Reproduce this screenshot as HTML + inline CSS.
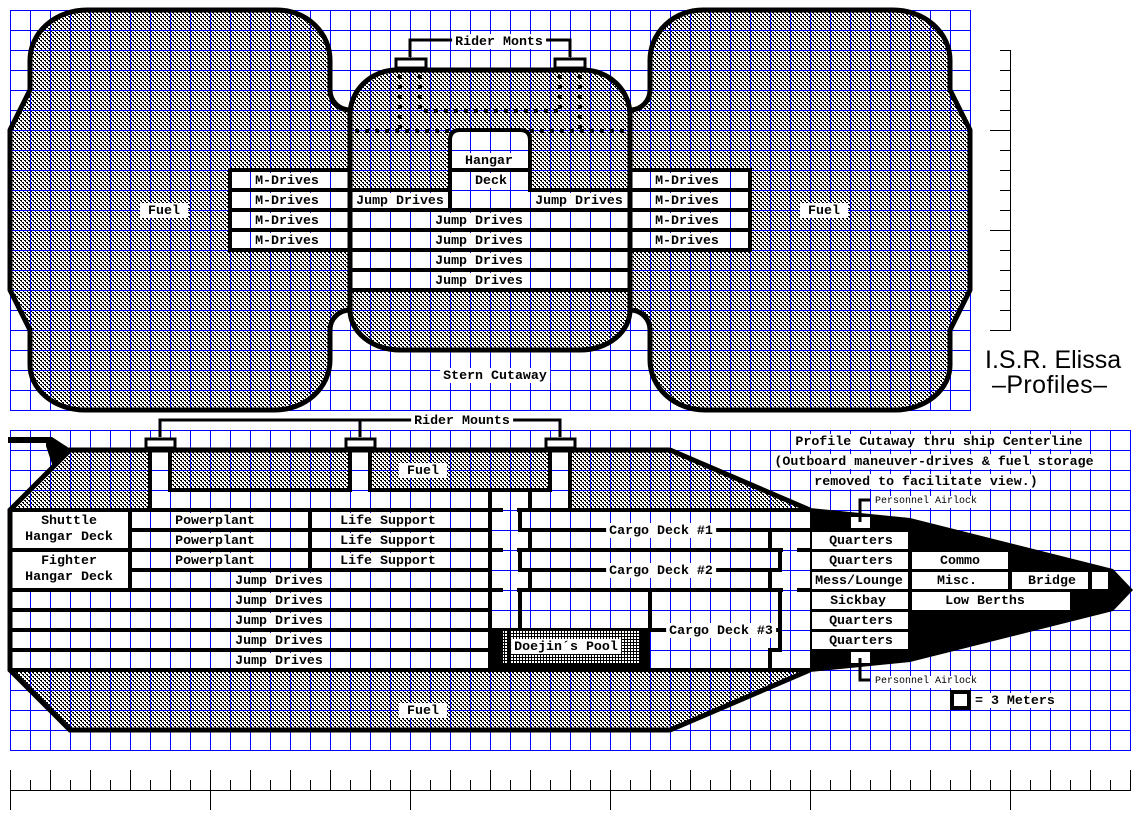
<!DOCTYPE html>
<html><head><meta charset="utf-8"><title>I.S.R. Elissa Profiles</title>
<style>
html,body{margin:0;padding:0;background:#fff;}
#c{position:relative;width:1141px;height:821px;overflow:hidden;background:#fff;}
#c svg{position:absolute;left:0;top:0;}
.l{position:absolute;transform:translate(-50%,-7px);background:#fff;font-family:"Liberation Mono",monospace;font-weight:bold;font-size:13.3px;line-height:15px;height:15px;padding:0 3px;white-space:pre;color:#000;}
.f{padding:0 8px;}
.s{position:absolute;transform:translate(0,-6px);font-family:"Liberation Mono",monospace;font-size:10px;line-height:12px;white-space:pre;color:#000;background:#fff;}
.la{transform:translate(0,-7px);padding:0;}
</style></head><body><div id="c">
<svg width="1141" height="821" viewBox="0 0 1141 821" xmlns="http://www.w3.org/2000/svg" shape-rendering="auto">
<defs>
 <pattern id="h" patternUnits="userSpaceOnUse" width="4" height="4">
  <path d="M0,0h2v1h-2z M1,1h1v1h-1z M2,2h2v1h-2z M3,3h1v1h-1z" fill="#000" shape-rendering="crispEdges"/>
 </pattern>
 <pattern id="g" patternUnits="userSpaceOnUse" x="10" y="10" width="20" height="20">
  <rect width="20" height="1" fill="#0000ff"/><rect width="1" height="20" fill="#0000ff"/>
 </pattern>
 <pattern id="pg" patternUnits="userSpaceOnUse" x="0" y="0" width="3" height="3">
  <rect width="3" height="3" fill="#fff"/><rect width="3" height="1" fill="#000"/><rect width="1" height="3" fill="#000"/>
 </pattern>
 <pattern id="t20" patternUnits="userSpaceOnUse" x="10" y="0" width="20" height="40"><rect width="1" height="40" fill="#000"/></pattern>
 <pattern id="t40" patternUnits="userSpaceOnUse" x="10" y="0" width="40" height="40"><rect width="1" height="40" fill="#000"/></pattern>
 <pattern id="t200" patternUnits="userSpaceOnUse" x="10" y="0" width="200" height="40"><rect width="1" height="40" fill="#000"/></pattern>
 <pattern id="v20" patternUnits="userSpaceOnUse" x="0" y="50" width="40" height="20"><rect width="40" height="1" fill="#000"/></pattern>
 <pattern id="v100" patternUnits="userSpaceOnUse" x="0" y="30" width="40" height="100"><rect width="40" height="1" fill="#000"/></pattern>
</defs>

<!-- TOP: hatch fills -->
<path fill="url(#h)" d="M87,10 H277 A53,50 0 0 1 330,60 V90 A20,20 0 0 0 350,110 V310 A20,20 0 0 0 330,330 V360 A55,50 0 0 1 275,410 H85 A55,45 0 0 1 30,365 V330 L10,290 V130 L30,90 V60 A57,50 0 0 1 87,10 Z"/>
<path fill="url(#h)" d="M893,10 H703 A53,50 0 0 0 650,60 V90 A20,20 0 0 1 630,110 V310 A20,20 0 0 1 650,330 V360 A55,50 0 0 0 705,410 H895 A55,45 0 0 0 950,365 V330 L970,290 V130 L950,90 V60 A57,50 0 0 0 893,10 Z"/>
<path fill="url(#h)" d="M350,115 A47,45 0 0 1 397,70 H583 A47,45 0 0 1 630,115 V310 A50,40 0 0 1 580,350 H400 A50,40 0 0 1 350,310 Z"/>
<rect x="230" y="170" width="120" height="80" fill="#fff"/>
<rect x="630" y="170" width="120" height="80" fill="#fff"/>
<rect x="350" y="190" width="280" height="100" fill="#fff"/>
<path fill="#fff" d="M450,192 V140 Q450,130 460,130 H520 Q530,130 530,140 V192 Z"/>

<!-- BOTTOM: hatch fills -->
<path fill="url(#h)" d="M70,450 H150 V510 H10 Z"/>
<rect x="170" y="450" width="180" height="40" fill="url(#h)"/>
<rect x="370" y="450" width="180" height="40" fill="url(#h)"/>
<path fill="url(#h)" d="M570,450 H670 L810,510 H570 Z"/>
<path fill="url(#h)" d="M10,670 H810 L670,730 H70 Z"/>

<!-- GRID -->
<rect x="10" y="10" width="961" height="401" fill="url(#g)"/>
<rect x="10" y="430" width="1121" height="321" fill="url(#g)"/>

<!-- white hangar boxes (no grid) -->
<rect x="10" y="510" width="120" height="80" fill="#fff"/>

<!-- TOP outlines -->
<g fill="none" stroke="#000" stroke-width="5" stroke-linejoin="round">
 <path d="M87,10 H277 A53,50 0 0 1 330,60 V90 A20,20 0 0 0 350,110 V310 A20,20 0 0 0 330,330 V360 A55,50 0 0 1 275,410 H85 A55,45 0 0 1 30,365 V330 L10,290 V130 L30,90 V60 A57,50 0 0 1 87,10 Z"/>
 <path d="M893,10 H703 A53,50 0 0 0 650,60 V90 A20,20 0 0 1 630,110 V310 A20,20 0 0 1 650,330 V360 A55,50 0 0 0 705,410 H895 A55,45 0 0 0 950,365 V330 L970,290 V130 L950,90 V60 A57,50 0 0 0 893,10 Z"/>
 <path d="M350,115 A47,45 0 0 1 397,70 H583 A47,45 0 0 1 630,115 V310 A50,40 0 0 1 580,350 H400 A50,40 0 0 1 350,310 Z"/>
</g>
<g fill="none" stroke="#000" stroke-width="4">
 <rect x="230" y="170" width="120" height="80"/>
 <rect x="630" y="170" width="120" height="80"/>
 <path d="M230,190 H350 M230,210 H350 M230,230 H350 M630,190 H750 M630,210 H750 M630,230 H750
  M348,190 H452 M528,190 H632
  M348,210 H632 M348,230 H632 M348,250 H632 M348,270 H632 M348,290 H632
  M450,212 V140 Q450,130 460,130 H520 Q530,130 530,140 V192
  M450,170 H530"/>
</g>
<!-- top dotted rider paths -->
<path d="M355,131 H450 M530,131 H628 M400,75 V131 M420,75 V111 H560 M560,75 V111 M580,75 V131" fill="none" stroke="#000" stroke-width="4" stroke-dasharray="4 6"/>
<!-- top rider mounts -->
<rect x="396" y="59" width="30" height="9" fill="#fff" stroke="#000" stroke-width="3"/>
<rect x="555" y="59" width="30" height="9" fill="#fff" stroke="#000" stroke-width="3"/>
<polyline points="410,57 410,40 570,40 570,57" fill="none" stroke="#000" stroke-width="3"/>

<!-- BOTTOM: front black section -->
<path fill="#000" d="M810,508 L910,518 L1113,569 L1133,590 L1113,611 L910,662 L810,672 Z"/>

<!-- BOTTOM outline -->
<path d="M810,510 L670,450 H70 L10,510 V670 L70,730 H670 L810,670" fill="none" stroke="#000" stroke-width="5" stroke-linejoin="miter"/>
<path fill="#000" d="M8,437 H52 L72,450 L53,467 L46,446 L46,443 H8 Z"/>

<!-- BOTTOM internal lines -->
<g fill="none" stroke="#000" stroke-width="4">
 <path d="M10,510 H503 M517,510 H810
  M128,530 H490
  M10,550 H503 M517,550 H783 M797,550 H810
  M128,570 H490
  M10,590 H503 M517,590 H783 M797,590 H810
  M10,610 H490 M10,630 H490 M10,650 H490
  M10,670 H810
  M130,508 V592
  M310,508 V572
  M490,488 V672
  M530,488 V510
  M150,450 V512
  M170,450 V490 H350 V450
  M370,450 V490 H550 V450
  M570,450 V512
  M520,508 V530 H530 V550 H520 V570 H530 V590 H520 V630
  M812,530 H770 V550 H780 V570 H770 V590 H780 V650 H770 V670
  M530,530 H770 M530,570 H770 M650,630 H780 M650,588 V630"/>
</g>

<!-- pool -->
<rect x="490" y="628" width="160" height="42" fill="#000"/>
<rect x="503" y="631" width="137" height="32" fill="url(#pg)"/>
<rect x="507" y="631" width="4" height="32" fill="#000"/>

<!-- bottom rider mounts -->
<rect x="146" y="439" width="29" height="9" fill="#fff" stroke="#000" stroke-width="3"/>
<rect x="346" y="439" width="29" height="9" fill="#fff" stroke="#000" stroke-width="3"/>
<rect x="546" y="439" width="29" height="9" fill="#fff" stroke="#000" stroke-width="3"/>
<polyline points="160,437 160,420 560,420 560,437" fill="none" stroke="#000" stroke-width="3"/>
<line x1="360" y1="420" x2="360" y2="437" stroke="#000" stroke-width="3"/>

<!-- front rooms -->
<g fill="#fff">
 <rect x="812" y="532" width="96" height="17"/>
 <rect x="812" y="552" width="96" height="17"/>
 <rect x="912" y="552" width="96" height="17"/>
 <rect x="812" y="572" width="96" height="17"/>
 <rect x="912" y="572" width="96" height="17"/>
 <rect x="1012" y="572" width="76" height="17"/>
 <rect x="1092" y="572" width="16" height="17"/>
 <rect x="812" y="592" width="96" height="17"/>
 <rect x="912" y="592" width="158" height="18"/>
 <rect x="812" y="612" width="96" height="17"/>
 <rect x="812" y="632" width="96" height="17"/>
 <rect x="851" y="517" width="19" height="11"/>
 <rect x="851" y="652" width="19" height="11"/>
</g>
<!-- airlock brackets -->
<polyline points="870,500 860,500 860,522" fill="none" stroke="#000" stroke-width="3"/>
<polyline points="860,658 860,680 870,680" fill="none" stroke="#000" stroke-width="3"/>

<!-- legend box -->
<rect x="952" y="692" width="17" height="16" fill="#fff" stroke="#000" stroke-width="4"/>

<!-- right-top ruler -->
<rect x="1010" y="50" width="1" height="281" fill="#000"/>
<rect x="1000" y="50" width="10" height="281" fill="url(#v20)"/>
<rect x="990" y="130" width="10" height="201" fill="url(#v100)"/>

<!-- bottom ruler -->
<rect x="10" y="790" width="1121" height="1" fill="#000"/>
<rect x="10" y="780" width="1121" height="10" fill="url(#t20)"/>
<rect x="10" y="770" width="1121" height="10" fill="url(#t40)"/>
<rect x="10" y="790" width="1121" height="20" fill="url(#t200)"/>

<!-- title -->
<text x="985" y="368" font-family="Liberation Sans, sans-serif" font-size="25" fill="#000">I.S.R. Elissa</text>
<text x="992" y="393" font-family="Liberation Sans, sans-serif" font-size="25" fill="#000" textLength="115">–Profiles–</text>
</svg>

<!-- TOP labels -->
<div class="l" style="left:499px;top:41px">Rider Monts</div>
<div class="l" style="left:489px;top:160px">Hangar</div>
<div class="l" style="left:491px;top:180px">Deck</div>
<div class="l" style="left:400px;top:200px">Jump Drives</div>
<div class="l" style="left:579px;top:200px">Jump Drives</div>
<div class="l" style="left:479px;top:220px">Jump Drives</div>
<div class="l" style="left:479px;top:240px">Jump Drives</div>
<div class="l" style="left:479px;top:260px">Jump Drives</div>
<div class="l" style="left:479px;top:280px">Jump Drives</div>
<div class="l" style="left:287px;top:180px">M-Drives</div>
<div class="l" style="left:287px;top:200px">M-Drives</div>
<div class="l" style="left:287px;top:220px">M-Drives</div>
<div class="l" style="left:287px;top:240px">M-Drives</div>
<div class="l" style="left:687px;top:180px">M-Drives</div>
<div class="l" style="left:687px;top:200px">M-Drives</div>
<div class="l" style="left:687px;top:220px">M-Drives</div>
<div class="l" style="left:687px;top:240px">M-Drives</div>
<div class="l f" style="left:164px;top:210px">Fuel</div>
<div class="l f" style="left:824px;top:210px">Fuel</div>
<div class="l" style="left:495px;top:375px">Stern Cutaway</div>

<!-- BOTTOM labels -->
<div class="l" style="left:462px;top:420px">Rider Mounts</div>
<div class="l f" style="left:423px;top:470px">Fuel</div>
<div class="l f" style="left:423px;top:710px">Fuel</div>
<div class="l" style="left:69px;top:520px">Shuttle</div>
<div class="l" style="left:69px;top:536px">Hangar Deck</div>
<div class="l" style="left:69px;top:560px">Fighter</div>
<div class="l" style="left:69px;top:576px">Hangar Deck</div>
<div class="l" style="left:215px;top:520px">Powerplant</div>
<div class="l" style="left:215px;top:540px">Powerplant</div>
<div class="l" style="left:215px;top:560px">Powerplant</div>
<div class="l" style="left:388px;top:520px">Life Support</div>
<div class="l" style="left:388px;top:540px">Life Support</div>
<div class="l" style="left:388px;top:560px">Life Support</div>
<div class="l" style="left:279px;top:580px">Jump Drives</div>
<div class="l" style="left:279px;top:600px">Jump Drives</div>
<div class="l" style="left:279px;top:620px">Jump Drives</div>
<div class="l" style="left:279px;top:640px">Jump Drives</div>
<div class="l" style="left:279px;top:660px">Jump Drives</div>
<div class="l" style="left:661px;top:530px">Cargo Deck #1</div>
<div class="l" style="left:661px;top:570px">Cargo Deck #2</div>
<div class="l" style="left:721px;top:630px">Cargo Deck #3</div>
<div class="l" style="left:566px;top:646px">Doejin´s Pool</div>
<div class="l" style="left:861px;top:540px">Quarters</div>
<div class="l" style="left:861px;top:560px">Quarters</div>
<div class="l" style="left:960px;top:560px">Commo</div>
<div class="l" style="left:859px;top:580px">Mess/Lounge</div>
<div class="l" style="left:957px;top:580px">Misc.</div>
<div class="l" style="left:1052px;top:580px">Bridge</div>
<div class="l" style="left:858px;top:600px">Sickbay</div>
<div class="l" style="left:985px;top:600px">Low Berths</div>
<div class="l" style="left:861px;top:620px">Quarters</div>
<div class="l" style="left:861px;top:640px">Quarters</div>
<div class="l" style="left:939px;top:441px">Profile Cutaway thru ship Centerline</div>
<div class="l" style="left:934px;top:461px">(Outboard maneuver-drives &amp; fuel storage</div>
<div class="l" style="left:926px;top:481px">removed to facilitate view.)</div>
<div class="s" style="left:875px;top:502px">Personnel Airlock</div>
<div class="s" style="left:875px;top:682px">Personnel Airlock</div>
<div class="l la" style="left:975px;top:700px">= 3 Meters</div>
</div></body></html>
